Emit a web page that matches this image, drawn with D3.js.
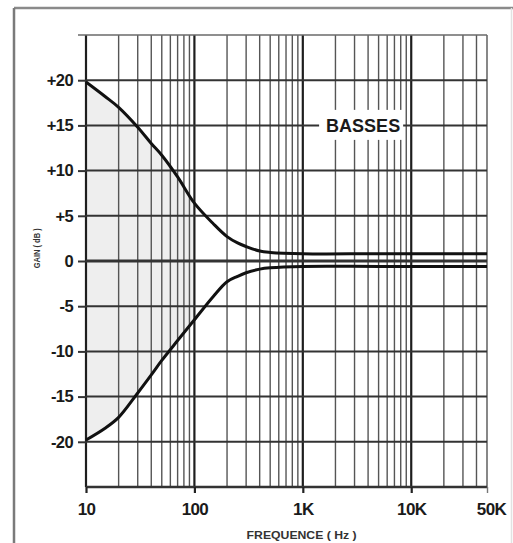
<!DOCTYPE html>
<html>
<head>
<meta charset="utf-8">
<script src="https://cdn.jsdelivr.net/npm/d3@7"></script>
<style>
  html, body { margin: 0; padding: 0; background: #fff; }
  svg { display: block; }
</style>
</head>
<body>
<div id="graph"></div>
<script>
// bass tone control response
const freqs = [10, 15, 20, 30, 40, 50, 70, 100, 150, 200, 250, 300, 400, 500, 1000, 5000, 50000]
const boostGain = [19.8, 18.2, 17.0, 14.8, 13.0, 11.7, 9.3, 6.4, 4.1, 2.7, 2.0, 1.6, 1.1, 0.95, 0.8, 0.8, 0.8]
const cutGain = [-19.8, -18.5, -17.3, -14.6, -12.6, -11.0, -8.8, -6.5, -3.9, -2.3, -1.7, -1.3, -0.9, -0.75, -0.6, -0.6, -0.6]

const xTickValues = [10, 100, 1000, 10000, 50000]
const xTickLabels = ['10', '100', '1K', '10K', '50K']
const yTickValues = [-20, -15, -10, -5, 0, 5, 10, 15, 20]
const yGridValues = [-20, -15, -10, -5, 0, 5, 10, 15, 20, 25]

const drawChart = () => {
  const dims = { width: 513, height: 543, left: 86, right: 487, top: 35, bottom: 487 }
  const font = "'Liberation Sans', Arial, sans-serif"

  const svg = d3
    .select('#graph')
    .append('svg')
    .attr('width', dims.width)
    .attr('height', dims.height)

  const xScale = d3.scaleLog().domain([10, 50000]).range([dims.left, dims.right])
  const yScale = d3.scaleLinear().domain([-25, 25]).range([dims.bottom, dims.top])

  // outer frame of the figure
  const frame = svg.append('g').attr('fill', 'none')
  frame.append('line').attr('x1', 14).attr('x2', 513).attr('y1', 8).attr('y2', 8)
    .attr('stroke', '#8a8a8a').attr('stroke-width', 2.5)
  frame.append('line').attr('x1', 14).attr('x2', 14).attr('y1', 8).attr('y2', 543)
    .attr('stroke', '#7a7a7a').attr('stroke-width', 2.5)
  frame.append('line').attr('x1', 511.5).attr('x2', 511.5).attr('y1', 8).attr('y2', 543)
    .attr('stroke', '#e2e2e2').attr('stroke-width', 1.5)

  const boostData = freqs.map((f, i) => ({ f, g: boostGain[i] }))
  const cutData = freqs.map((f, i) => ({ f, g: cutGain[i] }))
  const bandData = freqs.map((f, i) => ({ f, hi: boostGain[i], lo: cutGain[i] }))

  const smooth = d3.curveCatmullRom.alpha(0.5)

  // light shading between the curves in the low decade
  svg.append('clipPath').attr('id', 'lowClip')
    .append('rect')
    .attr('x', xScale(10)).attr('y', dims.top)
    .attr('width', xScale(100) - xScale(10)).attr('height', dims.bottom - dims.top)

  const area = d3.area()
    .x(d => xScale(d.f))
    .y0(d => yScale(d.lo))
    .y1(d => yScale(d.hi))
    .curve(smooth)

  svg.append('path')
    .datum(bandData)
    .attr('d', area)
    .attr('fill', '#eeeeee')
    .attr('clip-path', 'url(#lowClip)')

  // vertical grid: every 1..9 multiple of each decade
  const decades = [10, 100, 1000, 10000]
  svg.append('g')
    .selectAll('line')
    .data(xScale.ticks())
    .join('line')
    .attr('x1', d => xScale(d)).attr('x2', d => xScale(d))
    .attr('y1', dims.top).attr('y2', dims.bottom)
    .attr('stroke', d => decades.includes(d) ? '#1e1e1e' : '#555')
    .attr('stroke-width', d => decades.includes(d) ? 2.2 : 1.4)

  // horizontal grid every 5 dB
  svg.append('g')
    .selectAll('line')
    .data(yGridValues)
    .join('line')
    .attr('x1', d => d === 25 ? dims.left - 8 : dims.left)
    .attr('x2', dims.right)
    .attr('y1', d => yScale(d)).attr('y2', d => yScale(d))
    .attr('stroke', d => d === 25 ? '#6a6a6a' : '#333')
    .attr('stroke-width', d => d === 0 ? 2.8 : d === 25 ? 1.4 : 2)

  svg.append('line')
    .attr('x1', dims.left).attr('x2', dims.right)
    .attr('y1', yScale(-25)).attr('y2', yScale(-25))
    .attr('stroke', '#333').attr('stroke-width', 2.4)

  // y axis
  const yAxis = d3.axisLeft(yScale)
    .tickValues(yTickValues)
    .tickSize(8)
    .tickPadding(5)
    .tickFormat(d => (d > 0 ? '+' + d : String(d)))

  const yAxisGroup = svg.append('g')
    .attr('transform', `translate(${dims.left},0)`)
    .call(yAxis)
  yAxisGroup.select('.domain').remove()
  yAxisGroup.selectAll('.tick line').attr('stroke', '#333').attr('stroke-width', 2)
  yAxisGroup.selectAll('.tick text')
    .attr('fill', '#1a1a1a')
    .attr('font-family', font)
    .attr('font-weight', 'bold')
    .attr('font-size', '16.5px')
    .attr('letter-spacing', '-0.6px')

  // x axis
  const xAxis = d3.axisBottom(xScale)
    .tickValues(xTickValues)
    .tickSize(6)
    .tickPadding(10)
    .tickFormat((d, i) => xTickLabels[i])

  const xAxisGroup = svg.append('g')
    .attr('transform', `translate(0,${dims.bottom})`)
    .call(xAxis)
  xAxisGroup.select('.domain').remove()
  xAxisGroup.selectAll('.tick line')
    .attr('stroke', d => d === 50000 ? '#777' : '#222')
    .attr('stroke-width', d => d === 50000 ? 1.4 : 2.2)
  xAxisGroup.selectAll('.tick text')
    .attr('fill', '#1a1a1a')
    .attr('font-family', font)
    .attr('font-weight', 'bold')
    .attr('font-size', '17px')
    .attr('letter-spacing', '-0.6px')
    .attr('dx', d => d === 50000 ? 4 : 0)

  // response curves
  const line = d3.line()
    .x(d => xScale(d.f))
    .y(d => yScale(d.g))
    .curve(smooth)

  ;[boostData, cutData].forEach(data => {
    svg.append('path')
      .datum(data)
      .attr('d', line)
      .attr('fill', 'none')
      .attr('stroke', '#111')
      .attr('stroke-width', 3)
      .attr('stroke-linejoin', 'round')
  })

  // BASSES label on a white patch
  const labelGroup = svg.append('g')
  const label = labelGroup.append('text')
    .attr('x', xScale(3600))
    .attr('y', yScale(15))
    .attr('dy', '0.36em')
    .attr('text-anchor', 'middle')
    .attr('font-family', font)
    .attr('font-weight', 'bold')
    .attr('font-size', '18px')
    .attr('fill', '#1a1a1a')
    .text('BASSES')
  const box = label.node().getBBox()
  labelGroup.insert('rect', 'text')
    .attr('x', box.x - 7).attr('y', box.y - 6)
    .attr('width', box.width + 10).attr('height', box.height + 10)
    .attr('fill', '#fff')

  // axis titles
  svg.append('text')
    .attr('x', (xScale(1000) + xScale(100)) / 2 + 53)
    .attr('y', 539)
    .attr('text-anchor', 'middle')
    .attr('font-family', font)
    .attr('font-weight', 'bold')
    .attr('font-size', '10px')
    .attr('textLength', 110)
    .attr('lengthAdjust', 'spacingAndGlyphs')
    .attr('fill', '#333')
    .text('FREQUENCE ( Hz )')

  svg.append('text')
    .attr('transform', `translate(40,${yScale(1.4)}) rotate(-90)`)
    .attr('text-anchor', 'middle')
    .attr('font-family', font)
    .attr('font-weight', 'bold')
    .attr('font-size', '9.5px')
    .attr('textLength', 40)
    .attr('lengthAdjust', 'spacingAndGlyphs')
    .attr('fill', '#333')
    .text('GAIN ( dB )')
}

drawChart()
</script>
</body>
</html>
